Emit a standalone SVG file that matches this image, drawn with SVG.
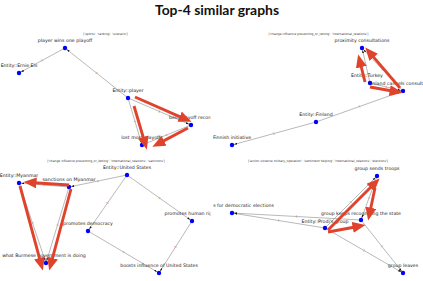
<svg xmlns="http://www.w3.org/2000/svg" width="423" height="281" viewBox="0 0 423 281">
<style>
.title{font-family:Lato,"DejaVu Sans",sans-serif;font-weight:bold;font-size:13.9px;fill:#111;text-anchor:middle}
.sub{font-family:"DejaVu Sans",sans-serif;font-size:3px;fill:#333;text-anchor:middle}
.lbl{font-family:"DejaVu Sans",sans-serif;font-size:4.7px;fill:#222;text-anchor:middle}
.el{font-family:"DejaVu Sans",sans-serif;font-size:3px;fill:#e0604c;text-anchor:middle;dominant-baseline:central}
.e{stroke:#8a8a8a;stroke-width:0.6;fill:none;marker-end:url(#ah)}
.r{stroke:#e0432c;stroke-width:2.9;fill:none;marker-end:url(#rh)}
.n{fill:#0000ff}
</style>
<defs>
<marker id="ah" viewBox="0 0 3 2" markerWidth="3" markerHeight="2" refX="5.2" refY="1" orient="auto" markerUnits="userSpaceOnUse"><path d="M0,0 L3,1 L0,2 z" fill="#111"/></marker>
<marker id="rh" viewBox="0 0 13 11" markerWidth="13" markerHeight="11" refX="2.5" refY="5.5" orient="auto" markerUnits="userSpaceOnUse"><path d="M0,0 L13,5.5 L0,11 z" fill="#e0432c"/></marker>
<clipPath id="cl"><rect x="0" y="18" width="210.5" height="263"/></clipPath>
<clipPath id="cr"><rect x="213" y="18" width="210" height="263"/></clipPath>
</defs>
<rect width="423" height="281" fill="#fff"/>
<text class="title" x="217" y="15">Top-4 similar graphs</text>

<!-- Panel 1 -->
<g id="panel1" clip-path="url(#cl)">
<text class="sub" x="105.5" y="34.5">['sports', 'ranking', 'scenario']</text>
<g id="connectors1">
<line class="e" x1="65" y1="48" x2="19" y2="73"/>
<line class="e" x1="128" y1="98" x2="65" y2="48"/>
<line class="e" x1="128" y1="98" x2="191" y2="125"/>
<line class="e" x1="191" y1="125" x2="142" y2="145"/>
<line class="e" x1="128" y1="98" x2="142" y2="145"/>
<text class="el" transform="translate(42,60.5) rotate(-28.5)">1</text>
<text class="el" transform="translate(96.5,73) rotate(38.4)">1</text>
<text class="el" transform="translate(159.5,111.5) rotate(23.2)">1</text>
<text class="el" transform="translate(166.5,135) rotate(-22.2)">1</text>
<text class="el" transform="translate(135,121.5) rotate(73.4)">1</text>
</g>
<g id="p1-ernie"><circle class="n" cx="19" cy="73" r="2.2"/><text class="lbl" x="19" y="67">Entity::Ernie Els</text></g>
<g id="p1-wins"><circle class="n" cx="65" cy="48" r="2.2"/><text class="lbl" x="65" y="42">player wins one playoff</text></g>
<g id="p1-player"><circle class="n" cx="128" cy="98" r="2.2"/><text class="lbl" x="128" y="92">Entity::player</text></g>
<g id="p1-best"><circle class="n" cx="191" cy="125" r="2.2"/><text class="lbl" x="191" y="119">best playoff record</text></g>
<g id="p1-lost"><circle class="n" cx="142" cy="145" r="2.2"/><text class="lbl" x="142" y="139">lost most playoffs</text></g>
<g id="red1">
<line class="r" x1="135" y1="97" x2="181.9" y2="117.6"/>
<line class="r" x1="188" y1="128" x2="161.7" y2="141.9"/>
<line class="r" x1="134" y1="106" x2="143.9" y2="139.5"/>
</g>
</g>

<!-- Panel 2 -->
<g id="panel2" clip-path="url(#cr)">
<text class="sub" x="318.5" y="34.5">['change influence preventing_or_letting', 'international_relations']</text>
<g id="connectors2">
<line class="e" x1="316" y1="122" x2="232" y2="145"/>
<line class="e" x1="316" y1="122" x2="403" y2="91"/>
<line class="e" x1="370" y1="83" x2="362" y2="48"/>
<line class="e" x1="370" y1="83" x2="403" y2="91"/>
<line class="e" x1="403" y1="91" x2="362" y2="48"/>
<text class="el" transform="translate(274,133.5) rotate(-15.3)">1</text>
<text class="el" transform="translate(359.5,106.5) rotate(-19.6)">1</text>
<text class="el" transform="translate(366,65.5) rotate(77.1)">1</text>
<text class="el" transform="translate(386.5,87) rotate(13.6)">1</text>
<text class="el" transform="translate(382.5,69.5) rotate(46.4)">1</text>
</g>
<g id="p2-finnish"><circle class="n" cx="232" cy="145" r="2.2"/><text class="lbl" x="232" y="139">Finnish initiative</text></g>
<g id="p2-finland"><circle class="n" cx="316" cy="122" r="2.2"/><text class="lbl" x="316" y="116">Entity::Finland</text></g>
<g id="p2-prox"><circle class="n" cx="362" cy="48" r="2.2"/><text class="lbl" x="362" y="42">proximity consultations</text></g>
<g id="p2-turkey"><circle class="n" cx="370" cy="83" r="2.2"/><text class="lbl" x="367" y="77">Entity::Turkey</text></g>
<g id="p2-cancels"><circle class="n" cx="403" cy="91" r="2.2"/><text class="lbl" x="403" y="85">Finland cancels consultations</text></g>
<g id="red2">
<line class="r" x1="365" y1="82" x2="360.7" y2="64.7"/>
<line class="r" x1="400" y1="88" x2="372.1" y2="55.4"/>
<line class="r" x1="370" y1="87" x2="392.2" y2="91"/>
</g>
</g>

<!-- Panel 3 -->
<g id="panel3" clip-path="url(#cl)">
<text class="sub" x="106" y="161.5">['change influence preventing_or_letting', 'international_relations', 'sanctions']</text>
<g id="connectors3">
<line class="e" x1="69" y1="187" x2="19" y2="183"/>
<line class="e" x1="69" y1="187" x2="46" y2="263"/>
<line class="e" x1="19" y1="183" x2="46" y2="263"/>
<line class="e" x1="127" y1="175" x2="69" y2="187"/>
<line class="e" x1="127" y1="175" x2="88" y2="231"/>
<line class="e" x1="127" y1="175" x2="192" y2="221"/>
<line class="e" x1="88" y1="231" x2="159" y2="273"/>
<line class="e" x1="192" y1="221" x2="159" y2="273"/>
<text class="el" transform="translate(44,185) rotate(4.6)">1</text>
<text class="el" transform="translate(57.5,225) rotate(-71.8)">1</text>
<text class="el" transform="translate(32.5,223) rotate(71.4)">1</text>
<text class="el" transform="translate(98,181) rotate(-11.7)">1</text>
<text class="el" transform="translate(107.5,203) rotate(-55.1)">1</text>
<text class="el" transform="translate(159.5,198) rotate(35.3)">1</text>
<text class="el" transform="translate(123.5,252) rotate(30.6)">1</text>
<text class="el" transform="translate(175.5,247) rotate(-57.6)">1</text>
</g>
<g id="p3-myanmar"><circle class="n" cx="19" cy="183" r="2.2"/><text class="lbl" x="19" y="177">Entity::Myanmar</text></g>
<g id="p3-sanctions"><circle class="n" cx="69" cy="187" r="2.2"/><text class="lbl" x="69" y="181">sanctions on Myanmar</text></g>
<g id="p3-what"><circle class="n" cx="46" cy="263" r="2.2"/><text class="lbl" x="44" y="257">what Burmese government is doing</text></g>
<g id="p3-us"><circle class="n" cx="127" cy="175" r="2.2"/><text class="lbl" x="127" y="169">Entity::United States</text></g>
<g id="p3-democracy"><circle class="n" cx="88" cy="231" r="2.2"/><text class="lbl" x="88" y="225">promotes democracy</text></g>
<g id="p3-human"><circle class="n" cx="192" cy="221" r="2.2"/><text class="lbl" x="192" y="215">promotes human rights</text></g>
<g id="p3-boosts"><circle class="n" cx="159" cy="273" r="2.2"/><text class="lbl" x="159" y="267">boosts influence of United States</text></g>
<g id="red3">
<line class="r" x1="69" y1="185" x2="34" y2="182.7"/>
<line class="r" x1="20" y1="186" x2="40.1" y2="260.4"/>
<line class="r" x1="71" y1="189" x2="51.9" y2="260.4"/>
</g>
</g>

<!-- Panel 4 -->
<g id="panel4" clip-path="url(#cr)">
<text class="sub" x="318" y="161.5">['action violence military_operation', 'sentiment helping', 'international_relations', 'elections']</text>
<g id="connectors4">
<line class="e" x1="325" y1="228" x2="232" y2="213"/>
<line class="e" x1="361" y1="220" x2="232" y2="213"/>
<line class="e" x1="325" y1="228" x2="377" y2="176"/>
<line class="e" x1="377" y1="176" x2="361" y2="220"/>
<line class="e" x1="325" y1="228" x2="403" y2="273"/>
<line class="e" x1="361" y1="220" x2="403" y2="273"/>
<text class="el" transform="translate(278.5,220.5) rotate(9.2)">1</text>
<text class="el" transform="translate(296.5,216.5) rotate(3.1)">1</text>
<text class="el" transform="translate(351,202) rotate(-45)">1</text>
<text class="el" transform="translate(369,198) rotate(-70)">1</text>
<text class="el" transform="translate(364,250.5) rotate(30)">1</text>
<text class="el" transform="translate(382,246.5) rotate(51.6)">1</text>
</g>
<g id="p4-elections"><circle class="n" cx="232" cy="213" r="2.2"/><text class="lbl" x="274" y="207" style="text-anchor:end">s for democratic elections</text></g>
<g id="p4-troops"><circle class="n" cx="377" cy="176" r="2.2"/><text class="lbl" x="377" y="170">group sends troops</text></g>
<g id="p4-keeps"><circle class="n" cx="361" cy="220" r="2.2"/><text class="lbl" x="361" y="215">group keeps recognizing the state</text></g>
<g id="p4-prodi"><circle class="n" cx="325" cy="228" r="2.2"/><text class="lbl" x="325" y="222.5">Entity::Prodi's group</text></g>
<g id="p4-leaves"><circle class="n" cx="403" cy="273" r="2.2"/><text class="lbl" x="403" y="267">group leaves</text></g>
<g id="red4">
<line class="r" x1="328" y1="230" x2="372.2" y2="185.8"/>
<line class="r" x1="375" y1="188" x2="370.3" y2="210.2"/>
<line class="r" x1="328" y1="232" x2="355.2" y2="227"/>
</g>
</g>
</svg>
